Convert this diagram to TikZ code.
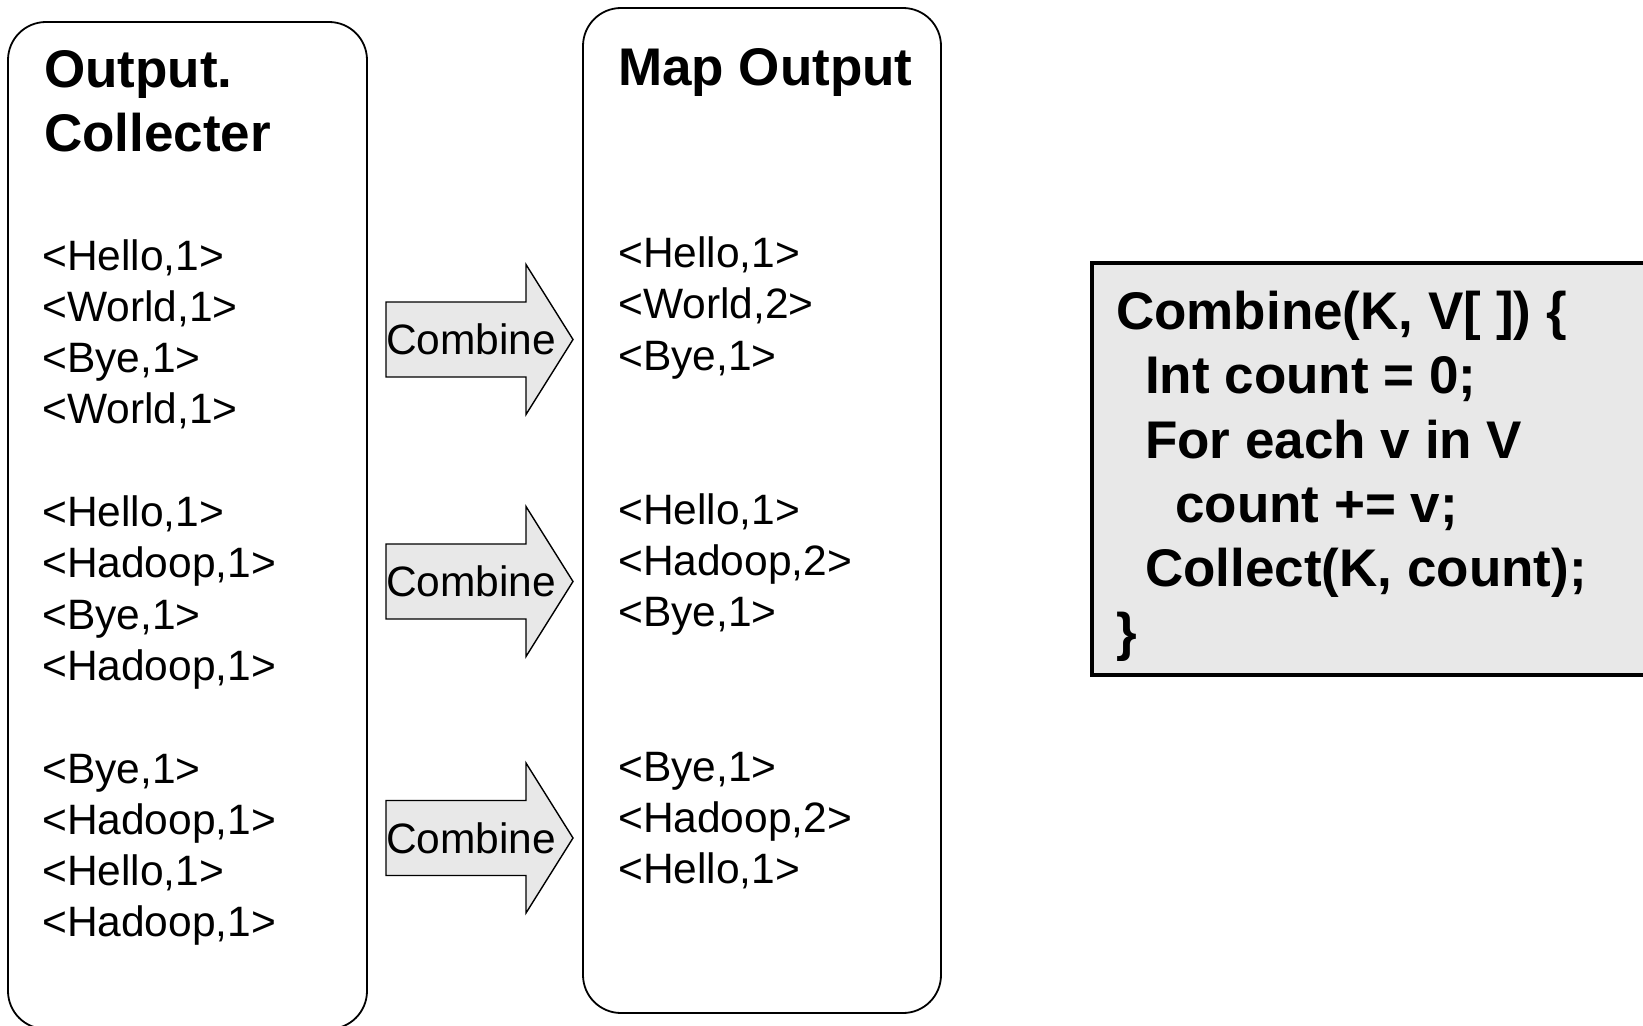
\documentclass[tikz,border=0pt]{standalone}
\usepackage{fontspec}
\setmainfont{Liberation Sans}
\definecolor{boxgray}{HTML}{E8E8E8}
\begin{document}
\begin{tikzpicture}[x=1pt,y=-1pt,
  txt/.style={anchor=base west, inner sep=0pt, font=\fontsize{42.5}{51}\selectfont},
  ttl/.style={anchor=base west, inner sep=0pt, font=\fontsize{53}{63}\selectfont\bfseries},
  panel/.style={draw, line width=1.8pt, rounded corners=38pt},
  combarrow/.style={draw, line width=1.4pt, fill=boxgray, line join=miter},
  codebox/.style={draw, line width=4pt, fill=boxgray}
]
\clip (0,0) rectangle (1643,1025);
% panels
\draw[panel] (8,22) rectangle (367,1029);
\draw[panel] (583,8) rectangle (941,1013);
% titles
\node[ttl] (t1) at (44,87.6) {Output.};
\node[ttl] (t2) at (44,151.6) {Collecter};
\node[ttl] (t3) at (618,85.6) {Map Output};
% left lists
\foreach \i/\s in {0/{<Hello,1>},1/{<World,1>},2/{<Bye,1>},3/{<World,1>}}
  \node[txt] (la\i) at (42,270+51.3*\i) {\s};
\foreach \i/\s in {0/{<Hello,1>},1/{<Hadoop,1>},2/{<Bye,1>},3/{<Hadoop,1>}}
  \node[txt] (lb\i) at (42,526.5+51.3*\i) {\s};
\foreach \i/\s in {0/{<Bye,1>},1/{<Hadoop,1>},2/{<Hello,1>},3/{<Hadoop,1>}}
  \node[txt] (lc\i) at (42,783+51.3*\i) {\s};
% map lists
\foreach \i/\s in {0/{<Hello,1>},1/{<World,2>},2/{<Bye,1>}}
  \node[txt] (ma\i) at (618,267.5+51.3*\i) {\s};
\foreach \i/\s in {0/{<Hello,1>},1/{<Hadoop,2>},2/{<Bye,1>}}
  \node[txt] (mb\i) at (618,524+51.3*\i) {\s};
\foreach \i/\s in {0/{<Bye,1>},1/{<Hadoop,2>},2/{<Hello,1>}}
  \node[txt] (mc\i) at (618,781+51.3*\i) {\s};
% combine arrows
\foreach \n/\cy in {1/339.5,2/581.5,3/838}{
  \draw[combarrow] (386,\cy-37.5) -- (526,\cy-37.5) -- (526,\cy-75) -- (573,\cy)
     -- (526,\cy+75) -- (526,\cy+37.5) -- (386,\cy+37.5) -- cycle;
  \node[txt] (comb\n) at (386,\cy+15.2) {Combine};
}
% code box
\draw[codebox] (1092,263) rectangle (1660,675);
\node[ttl] (c1) at (1116,329.6) {Combine(K, V[ ]) \{};
\node[ttl] (c2) at (1145,393.8) {Int count = 0;};
\node[ttl] (c3) at (1145,458) {For each v in V};
\node[ttl] (c4) at (1175,522.2) {count += v;};
\node[ttl] (c5) at (1145,586.4) {Collect(K, count);};
\node[ttl] (c6) at (1116,650.6) {\}};
\end{tikzpicture}
\end{document}
